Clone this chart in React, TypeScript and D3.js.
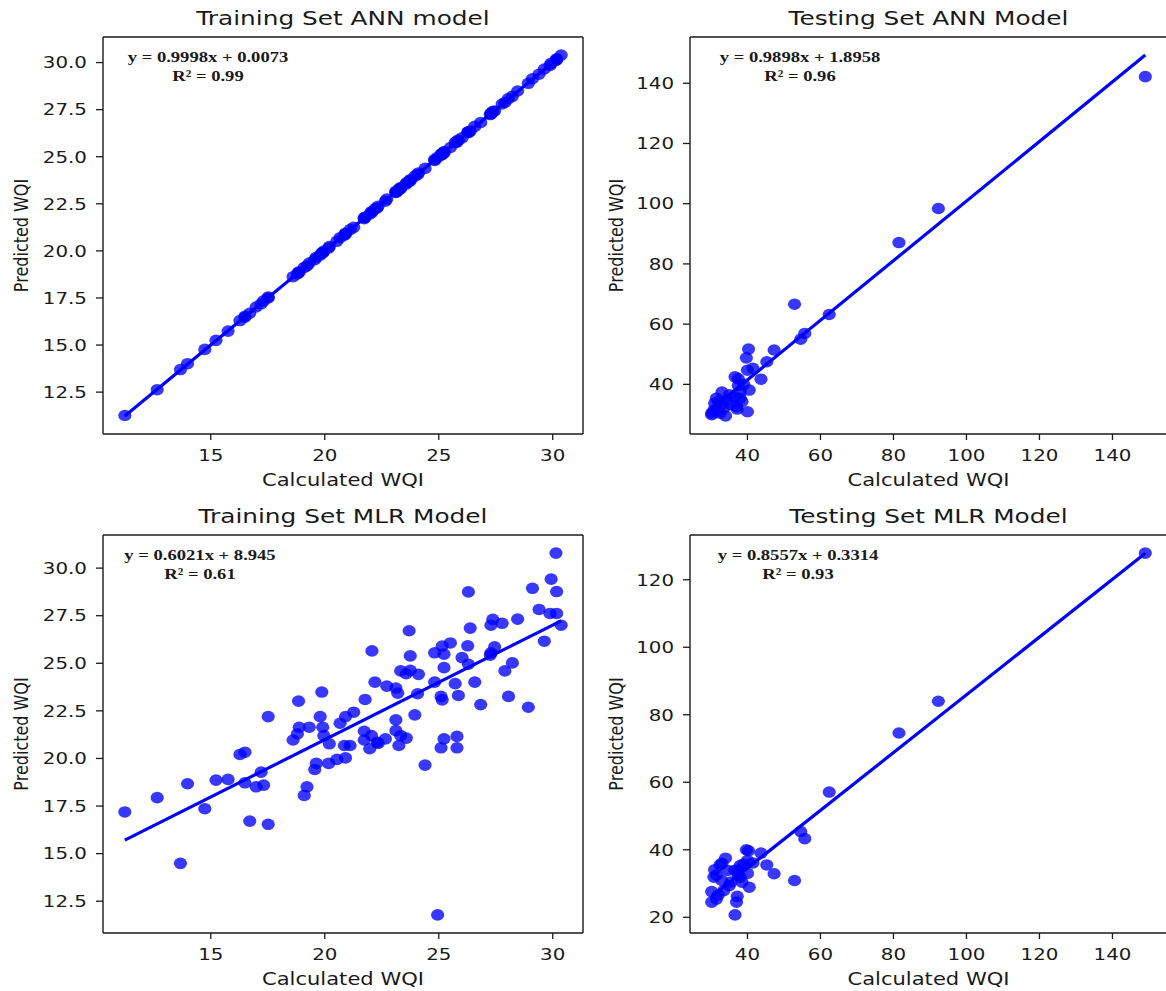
import React from "react";
import * as d3 from "d3";

// training set: calculated WQI, ANN prediction, MLR prediction
const trainCalc = [
  11.23, 12.65, 13.67, 13.98, 14.74, 15.23, 15.76, 16.28, 16.5, 16.5,
  16.71, 16.99, 17.21, 17.32, 17.52, 17.52, 18.61, 18.8, 18.85, 18.88,
  19.1, 19.22, 19.32, 19.56, 19.63, 19.8, 19.87, 19.91, 19.96, 20.17,
  20.2, 20.53, 20.67, 20.86, 20.91, 20.91, 21.11, 21.27, 21.73, 21.73,
  21.77, 21.97, 22.05, 22.07, 22.2, 22.3, 22.34, 22.66, 22.72, 23.12,
  23.12, 23.12, 23.2, 23.25, 23.33, 23.33, 23.57, 23.58, 23.7, 23.75,
  23.75, 23.95, 24.07, 24.11, 24.4, 24.82, 24.82, 24.95, 25.1, 25.1,
  25.15, 25.15, 25.23, 25.23, 25.23, 25.51, 25.72, 25.8, 25.8, 25.86,
  26.02, 26.27, 26.3, 26.3, 26.38, 26.58, 26.84, 27.26, 27.29, 27.29,
  27.37, 27.45, 27.78, 27.9, 28.06, 28.23, 28.46, 28.93, 29.11, 29.4,
  29.63, 29.88, 29.93, 30.14, 30.17, 30.17, 30.37,
];
const trainAnnPred = [
  11.26, 12.63, 13.7, 14.01, 14.77, 15.25, 15.74, 16.3, 16.48, 16.53,
  16.69, 17.02, 17.19, 17.35, 17.5, 17.55, 18.63, 18.78, 18.88, 18.86,
  19.12, 19.2, 19.35, 19.54, 19.66, 19.78, 19.9, 19.89, 19.99, 20.15,
  20.23, 20.51, 20.7, 20.84, 20.94, 20.89, 21.13, 21.25, 21.76, 21.71,
  21.79, 21.95, 22.08, 22.05, 22.23, 22.28, 22.37, 22.64, 22.75, 23.1,
  23.15, 23.13, 23.18, 23.28, 23.31, 23.36, 23.55, 23.61, 23.68, 23.78,
  23.73, 23.97, 24.05, 24.14, 24.38, 24.85, 24.8, 24.97, 25.08, 25.13,
  25.17, 25.12, 25.26, 25.21, 25.25, 25.49, 25.75, 25.78, 25.83, 25.88,
  26.0, 26.3, 26.28, 26.33, 26.36, 26.61, 26.82, 27.24, 27.32, 27.27,
  27.4, 27.43, 27.8, 27.88, 28.09, 28.21, 28.49, 28.9, 29.14, 29.38,
  29.66, 29.85, 29.96, 30.12, 30.2, 30.15, 30.4,
];
const trainMlrPred = [
  17.19, 17.94, 14.49, 18.67, 17.36, 18.86, 18.9, 20.21, 20.33, 18.72,
  16.71, 18.51, 19.28, 18.6, 16.54, 22.2, 20.97, 21.29, 23.01, 21.64,
  18.06, 18.51, 21.64, 19.42, 19.74, 22.2, 23.49, 21.64, 21.2, 19.74,
  20.77, 19.95, 21.85, 20.68, 20.03, 22.2, 20.68, 22.43, 21.43, 20.97,
  23.1, 20.51, 21.2, 25.65, 24.01, 20.85, 20.79, 21.03, 23.8, 23.7,
  22.03, 21.46, 23.43, 20.68, 24.6, 21.2, 24.45, 21.07, 26.71, 25.39,
  24.63, 22.29, 23.4, 24.42, 19.65, 25.55, 24.01, 11.78, 23.26, 20.56,
  25.9, 23.08, 25.48, 24.77, 21.03, 26.07, 23.93, 21.16, 20.56, 23.31,
  25.3, 25.92, 28.75, 24.95, 26.85, 24.01, 22.83, 25.43, 27.0, 25.55,
  27.31, 25.86, 27.1, 24.6, 23.26, 25.02, 27.32, 22.69, 28.94, 27.83,
  26.16, 27.62, 29.42, 30.79, 28.77, 27.62, 27.0,
];

// testing set
const testCalc = [
  149.0, 92.3, 81.5, 62.4, 55.7, 54.6, 52.9, 47.3, 45.3, 43.7,
  41.5, 40.3, 39.7, 40.0, 40.5, 39.0, 38.5, 38.0, 38.0, 37.5,
  37.5, 37.0, 36.6, 36.5, 35.5, 35.0, 34.5, 34.0, 33.5, 33.0,
  33.0, 32.5, 32.0, 31.5, 31.5, 31.0, 30.8, 30.2, 30.2, 40.0,
  37.2,
];
const testAnnPred = [
  142.2, 98.4, 87.1, 63.2, 56.9, 55.0, 66.6, 51.4, 47.5, 41.7,
  45.3, 51.7, 48.8, 44.7, 38.1, 40.0, 34.3, 37.6, 35.4, 41.8,
  39.6, 32.6, 42.5, 35.9, 33.2, 36.5, 34.8, 29.5, 32.1, 37.4,
  33.4, 30.4, 34.3, 35.4, 31.0, 33.7, 31.4, 30.4, 29.9, 30.9,
  31.8,
];
const testMlrPred = [
  127.9, 84.0, 74.6, 57.1, 43.3, 45.4, 30.9, 32.9, 35.5, 39.0,
  36.1, 39.7, 40.0, 36.8, 28.9, 35.8, 30.4, 35.3, 31.9, 32.4,
  34.0, 24.5, 20.7, 33.9, 30.4, 29.4, 33.9, 37.5, 27.9, 30.9,
  36.0, 35.5, 26.6, 25.4, 32.5, 34.1, 31.9, 27.6, 24.5, 33.0,
  26.2,
];

const trainXTicks = [15, 20, 25, 30];
const trainYTicks = [12.5, 15, 17.5, 20, 22.5, 25, 27.5, 30];
const testXTicks = [40, 60, 80, 100, 120, 140];
const testAnnYTicks = [40, 60, 80, 100, 120, 140];
const testMlrYTicks = [20, 40, 60, 80, 100, 120];

const titles = [
  "Training Set ANN model",
  "Testing Set ANN Model",
  "Training Set MLR Model",
  "Testing Set MLR Model",
];
const fits = [
  [0.9998, 0.0073],
  [0.9898, 1.8958],
  [0.6021, 8.945],
  [0.8557, 0.3314],
];
const equations = [
  "y = 0.9998x + 0.0073",
  "y = 0.9898x + 1.8958",
  "y = 0.6021x + 8.945",
  "y = 0.8557x + 0.3314",
];
const r2Labels = ["R² = 0.99", "R² = 0.96", "R² = 0.61", "R² = 0.93"];

const W = 1166;
const H = 991;
const SX = 1.24; // the source picture is stretched horizontally
const BLUE = "#0000ff";
const INK = "#1a1a1a";
const SANS = "DejaVu Sans, sans-serif";
const SERIF = "Liberation Serif, Times New Roman, serif";

type TProps = {
  x: number;
  y: number;
  size: number;
  anchor?: string;
  family?: string;
  weight?: string | number;
  rotate?: number;
  sx?: number;
  children: React.ReactNode;
};

const SText = ({ x, y, size, anchor = "middle", family = SANS, weight = "normal", rotate = 0, sx = SX, children }: TProps) => (
  <text
    transform={`translate(${x},${y}) scale(${sx},1) rotate(${rotate})`}
    textAnchor={anchor}
    dominantBaseline="central"
    fontSize={size}
    fontFamily={family}
    fontWeight={weight}
    fill={INK}
  >
    {children}
  </text>
);

type PanelProps = {
  idx: number;
  left: number;
  top: number;
  width: number;
  height: number;
  xs: number[];
  ys: number[];
  xTicks: number[];
  yTicks: number[];
  yFmt: (v: number) => string;
  ylabelOff: number;
  eqX: number;
};

// matplotlib style 5% margins
const pad = (lo: number, hi: number) => {
  const m = (hi - lo) * 0.05;
  return [lo - m, hi + m];
};

const Panel = ({ idx, left, top, width, height, xs, ys, xTicks, yTicks, yFmt, ylabelOff, eqX }: PanelProps) => {
  const [slope, icpt] = fits[idx];
  const [x0, x1] = d3.extent(xs) as [number, number];
  const lineYs = [slope * x0 + icpt, slope * x1 + icpt];
  const [ylo, yhi] = d3.extent([...ys, ...lineYs]) as [number, number];

  const x = d3.scaleLinear().domain(pad(x0, x1)).range([left, left + width]);
  const y = d3.scaleLinear().domain(pad(ylo, yhi)).range([top + height, top]);
  const bottom = top + height;
  const right = left + width;

  const line = d3
    .line<number>()
    .x((d) => x(d))
    .y((d) => y(slope * d + icpt));

  return (
    <g>
      <SText x={left + width / 2} y={top - 19} size={20}>
        {titles[idx]}
      </SText>

      {xs.map((d, i) => (
        <ellipse key={i} cx={x(d)} cy={y(ys[i])} rx={6.6} ry={5.8} fill={BLUE} fillOpacity={0.78} />
      ))}
      <path d={line([x0, x1]) || ""} stroke={BLUE} strokeWidth={3.2} fill="none" />

      <g stroke={INK} strokeWidth={1.4}>
        <line x1={left} x2={right} y1={top} y2={top} />
        <line x1={left} x2={right} y1={bottom} y2={bottom} />
        <line x1={left} x2={left} y1={top} y2={bottom} />
        <line x1={right} x2={right} y1={top} y2={bottom} />
      </g>

      {xTicks.map((t) => (
        <g key={t}>
          <line x1={x(t)} x2={x(t)} y1={bottom} y2={bottom + 6} stroke={INK} strokeWidth={1.3} />
          <SText x={x(t)} y={bottom + 21} size={16}>
            {t}
          </SText>
        </g>
      ))}
      {yTicks.map((t) => (
        <g key={t}>
          <line x1={left - 7} x2={left} y1={y(t)} y2={y(t)} stroke={INK} strokeWidth={1.3} />
          <SText x={left - 16} y={y(t)} size={16} anchor="end">
            {yFmt(t)}
          </SText>
        </g>
      ))}

      <SText x={left + width / 2} y={bottom + 46} size={17}>
        Calculated WQI
      </SText>
      <SText x={left - ylabelOff} y={top + height / 2} size={16} rotate={-90}>
        Predicted WQI
      </SText>

      <SText x={left + eqX} y={top + 20} size={15.5} family={SERIF} weight="bold" sx={1.2}>
        {equations[idx]}
      </SText>
      <SText x={left + eqX} y={top + 39} size={15.5} family={SERIF} weight="bold" sx={1.2}>
        {r2Labels[idx]}
      </SText>
    </g>
  );
};

const f1 = d3.format(".1f");
const f0 = d3.format("d");

export default function App() {
  return (
    <svg width={W} height={H} style={{ position: "absolute", left: 0, top: 0, background: "#fff" }}>
      <rect width={W} height={H} fill="#fff" />
      <Panel idx={0} left={103} top={37} width={480} height={397} xs={trainCalc} ys={trainAnnPred}
        xTicks={trainXTicks} yTicks={trainYTicks} yFmt={f1} ylabelOff={82} eqX={105} />
      <Panel idx={1} left={690} top={37} width={477} height={397} xs={testCalc} ys={testAnnPred}
        xTicks={testXTicks} yTicks={testAnnYTicks} yFmt={f0} ylabelOff={74} eqX={110} />
      <Panel idx={2} left={103} top={535} width={480} height={398} xs={trainCalc} ys={trainMlrPred}
        xTicks={trainXTicks} yTicks={trainYTicks} yFmt={f1} ylabelOff={82} eqX={97} />
      <Panel idx={3} left={690} top={535} width={477} height={398} xs={testCalc} ys={testMlrPred}
        xTicks={testXTicks} yTicks={testMlrYTicks} yFmt={f0} ylabelOff={74} eqX={108} />
    </svg>
  );
}
